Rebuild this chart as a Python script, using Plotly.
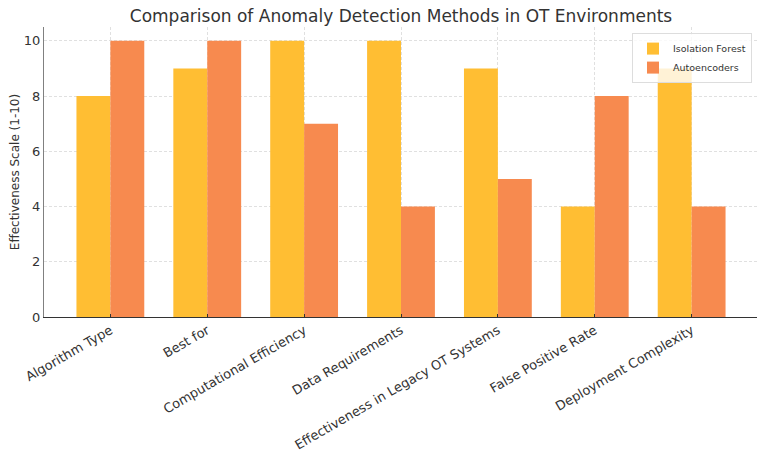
import plotly.graph_objects as go

categories = ["Algorithm Type", "Best for", "Computational Efficiency", "Data Requirements",
              "Effectiveness in Legacy OT Systems", "False Positive Rate", "Deployment Complexity"]
isolation_forest = [8, 9, 10, 10, 9, 4, 9]
autoencoders = [10, 10, 7, 4, 5, 8, 4]
y_ticks = [0, 2, 4, 6, 8, 10]

# page body has an 8px margin, so the figure is drawn 8px right/down
W, H = 757, 448
fig = go.Figure()
fig.add_trace(go.Bar(x=list(range(len(categories))), y=isolation_forest, name="Isolation Forest",
                     marker=dict(color="#FFBE33", line=dict(width=0)), width=0.35, offset=-0.35))
fig.add_trace(go.Bar(x=list(range(len(categories))), y=autoencoders, name="Autoencoders",
                     marker=dict(color="#F78A4F", line=dict(width=0)), width=0.35, offset=0))

fig.update_layout(
    width=W, height=H,
    barmode="overlay",
    plot_bgcolor="white", paper_bgcolor="white",
    font=dict(family="DejaVu Sans", color="#333333", size=12),
    title=dict(text="Comparison of Anomaly Detection Methods in OT Environments",
               x=393 / W, xanchor="center", y=1 - 8 / H, yanchor="middle",
               font=dict(size=17, color="#333333")),
    margin=dict(l=36, r=7, t=19, b=139, autoexpand=False),
    showlegend=True,
    legend=dict(x=0.9916, y=0.979, xanchor="right", yanchor="top",
                bgcolor="rgba(255,255,255,0.8)", bordercolor="#DDDDDD", borderwidth=1,
                font=dict(size=9.5, color="#333333"), itemwidth=30, tracegroupgap=0),
)
fig.update_xaxes(
    range=[-0.685, 6.685], automargin=False,
    tickmode="array", tickvals=list(range(len(categories))), ticktext=categories,
    tickangle=-30, ticks="inside", ticklen=3, tickcolor="#333333",
    showgrid=True, gridcolor="#E0E0E0", griddash="3px,2px", gridwidth=0.8,
    showline=True, linecolor="#333333", linewidth=1,
    tickfont=dict(size=13, color="#333333"), zeroline=False,
)
fig.update_yaxes(
    range=[0, 10.5], tickmode="array", tickvals=y_ticks, automargin=False,
    ticks="", showgrid=True, gridcolor="#E0E0E0", griddash="3px,2px", gridwidth=0.8,
    showline=True, linecolor="#808080", linewidth=1.2, zeroline=False,
    title=dict(text="Effectiveness Scale (1-10)", font=dict(size=12, color="#333333"), standoff=10),
    tickfont=dict(size=13, color="#333333"),
)
fig.write_html("out.html")
